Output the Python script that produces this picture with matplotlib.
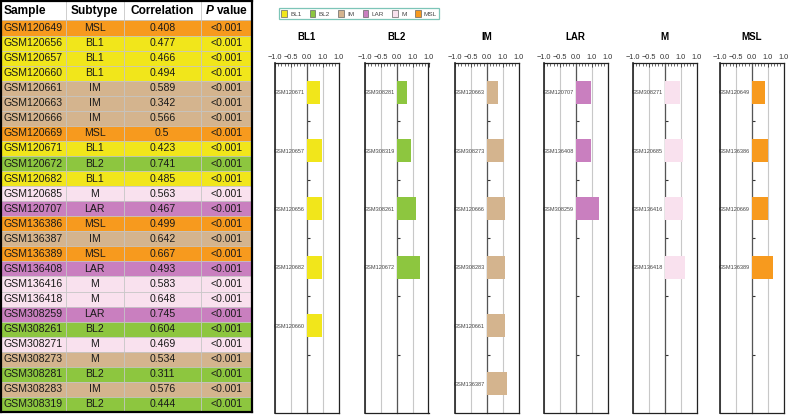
import matplotlib
matplotlib.use("Agg")
import matplotlib.pyplot as plt
from matplotlib.patches import Patch

plt.rcParams['font.family'] = ['Liberation Sans', 'DejaVu Sans']
plt.rcParams['mathtext.fontset'] = 'custom'
plt.rcParams['mathtext.it'] = 'Liberation Sans:italic:bold'
plt.rcParams['mathtext.rm'] = 'Liberation Sans:bold'

# table data
samples = ['GSM120649', 'GSM120656', 'GSM120657', 'GSM120660', 'GSM120661', 'GSM120663',
           'GSM120666', 'GSM120669', 'GSM120671', 'GSM120672', 'GSM120682', 'GSM120685',
           'GSM120707', 'GSM136386', 'GSM136387', 'GSM136389', 'GSM136408', 'GSM136416',
           'GSM136418', 'GSM308259', 'GSM308261', 'GSM308271', 'GSM308273', 'GSM308281',
           'GSM308283', 'GSM308319']
subtypes = ['MSL', 'BL1', 'BL1', 'BL1', 'IM', 'IM', 'IM', 'MSL', 'BL1', 'BL2', 'BL1', 'M',
            'LAR', 'MSL', 'IM', 'MSL', 'LAR', 'M', 'M', 'LAR', 'BL2', 'M', 'M', 'BL2',
            'IM', 'BL2']
# group each sample is coloured / plotted with (GSM308273 sits with IM)
groups = ['MSL', 'BL1', 'BL1', 'BL1', 'IM', 'IM', 'IM', 'MSL', 'BL1', 'BL2', 'BL1', 'M',
          'LAR', 'MSL', 'IM', 'MSL', 'LAR', 'M', 'M', 'LAR', 'BL2', 'M', 'IM', 'BL2',
          'IM', 'BL2']
correlation = [0.408, 0.477, 0.466, 0.494, 0.589, 0.342, 0.566, 0.5, 0.423, 0.741, 0.485,
               0.563, 0.467, 0.499, 0.642, 0.667, 0.493, 0.583, 0.648, 0.745, 0.604, 0.469,
               0.534, 0.311, 0.576, 0.444]
pvalues = ['<0.001'] * len(samples)

panel_names = ['BL1', 'BL2', 'IM', 'LAR', 'M', 'MSL']
colors = {'BL1': '#F1E61B', 'BL2': '#8DC63F', 'IM': '#D4B48E',
          'LAR': '#C97FBF', 'M': '#F9E1EE', 'MSL': '#F79A1E'}
xtick_labels = ['\u22121.0', '\u22120.5', '0.0', '1.0', '1.0']

W, H = 789, 415
fig = plt.figure(figsize=(W / 100, H / 100), dpi=100)


def px_axes(x0, y0, x1, y1):
    return fig.add_axes([x0 / W, 1 - y1 / H, (x1 - x0) / W, (y1 - y0) / H])


# ---- table on the left ----
ax_t = px_axes(1, 1, 252, 412)
ax_t.set_xticks([])
ax_t.set_yticks([])
for sp in ax_t.spines.values():
    sp.set_linewidth(1.6)
    sp.set_color('black')
    sp.set_zorder(5)

rows = [[s, t, f"{c:g}", p] for s, t, c, p in zip(samples, subtypes, correlation, pvalues)]
cell_colors = [[colors[g]] * 4 for g in groups]
tbl = ax_t.table(cellText=rows, colLabels=['Sample', 'Subtype', 'Correlation', '$P$ value'],
                 cellColours=cell_colors, colWidths=[65, 58, 78, 51], cellLoc='center',
                 bbox=[0, 0, 1, 1])
tbl.auto_set_font_size(False)
tbl.set_fontsize(7.6)
for (r, c), cell in tbl.get_celld().items():
    cell.set_edgecolor('#c4c4c4')
    cell.set_linewidth(0.5)
    cell.get_text().set_color('#1a1a1a')
    if r == 0:
        cell.set_height(cell.get_height() * 19.5 / 15.1)
        cell.get_text().set_fontweight('bold')
        cell.get_text().set_fontsize(8.6)
        cell.get_text().set_color('black')
        cell.set_facecolor('white')
    if c == 0:
        cell.get_text().set_ha('left')
        cell.PAD = 0.04

# ---- bar panels ----
lefts = [275, 365, 455, 544, 633, 720]
for name, x0 in zip(panel_names, lefts):
    ax = px_axes(x0, 63, x0 + 63.5, 413)
    idx = sorted([i for i, g in enumerate(groups) if g == name], key=lambda i: correlation[i])
    vals = [correlation[i] for i in idx]
    labs = [samples[i] for i in idx]
    ax.barh(range(len(vals)), vals, height=0.39, color=colors[name], zorder=3)
    ax.set_xlim(-1, 1)
    ax.set_ylim(5.5, -0.5)

    ax.xaxis.tick_top()
    ax.set_xticks([-1, -0.5, 0, 0.5, 1])
    ax.set_xticklabels(xtick_labels)
    ax.set_xticks([i / 10 for i in range(-10, 11)], minor=True)
    ax.tick_params(axis='x', which='major', direction='in', length=3, width=0.6,
                   labelsize=5.3, pad=1.5, colors='#333333')
    ax.tick_params(axis='x', which='minor', direction='in', length=1.8, width=0.5,
                   colors='#333333')
    ax.grid(axis='x', color='#c8c8c8', linewidth=0.8, zorder=0)

    ax.set_yticks(range(len(labs)))
    ax.set_yticklabels(labs)
    ax.set_yticks([k + 0.5 for k in range(5)], minor=True)
    ax.tick_params(axis='y', which='major', length=0, labelsize=4.0, pad=1.5,
                   labelcolor='#444444')
    ax.tick_params(axis='y', which='minor', direction='in', length=2.5, width=0.8,
                   color='#333333')

    ax.spines['left'].set_position(('data', 0))
    ax.spines['left'].set_color('#555555')
    ax.spines['left'].set_linewidth(0.9)
    for s in ['top', 'bottom', 'right']:
        ax.spines[s].set_color('#222222')
        ax.spines[s].set_linewidth(0.9)
    ax.axvline(-1, color='#222222', linewidth=1.2, clip_on=False, zorder=4)

    ax.text(0.5, 1.074, name, transform=ax.transAxes, ha='center', va='center',
            fontsize=7, fontweight='bold')

# ---- legend ----
handles = [Patch(facecolor=colors[n], edgecolor='#666666', linewidth=0.5) for n in panel_names]
leg = fig.legend(handles, panel_names, loc='center', bbox_to_anchor=(359 / W, 1 - 13.5 / H),
                 ncol=6, fontsize=4.6, frameon=True, fancybox=False, handlelength=0.9,
                 handleheight=1.1, handletextpad=0.5, columnspacing=1.3, borderpad=0.35)
leg.get_frame().set_edgecolor('#5DB7A6')
leg.get_frame().set_linewidth(0.9)
for t in leg.get_texts():
    t.set_color('#444444')

fig.savefig('out.png', dpi=100)
